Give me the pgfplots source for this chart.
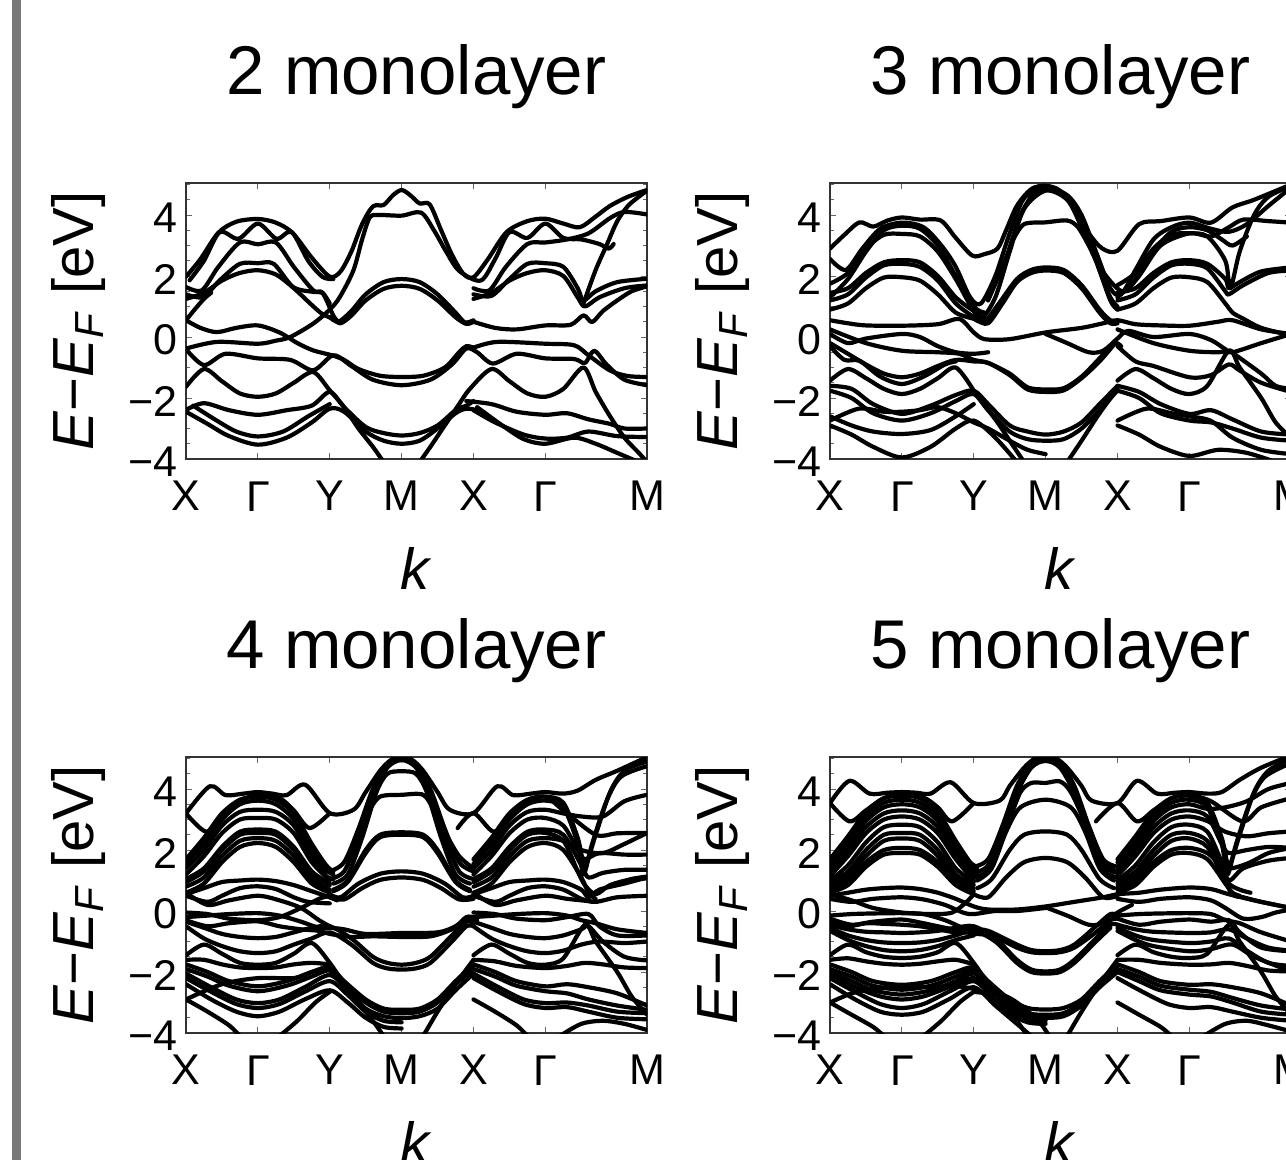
\documentclass[border=0pt]{standalone}
\usepackage{fontspec}
\setmainfont{Liberation Sans}
\usepackage{pgfplots}
\pgfplotsset{compat=1.18}
\definecolor{graybar}{RGB}{120,120,120}
\newcommand{\B}[1]{\addplot coordinates {#1};}
\pgfplotsset{bandaxis/.style={
  scale only axis, width=230.5pt, height=138pt,
  xmin=0, xmax=6.414, ymin=-4, ymax=5.05,
  xtick={0,1,2,3,4,5,6.414},
  xticklabels={X,Γ,Y,M,X,Γ,M},
  ytick={-4,-2,0,2,4},
  yticklabels={−4,−2,0,2,4},
  minor ytick={-3.5,-3,-2.5,-1.5,-1,-0.5,0.5,1,1.5,2.5,3,3.5,4.5,5},
  tick align=inside,
  major tick length=3pt, minor tick length=1.8pt,
  tick style={black!60, line width=0.5pt},
  axis line style={black!80, line width=0.6pt},
  ticklabel style={font=\fontsize{21.5}{21.5}\selectfont, inner sep=0pt},
  xticklabel style={yshift=-11pt},
  yticklabel style={xshift=-4pt, yshift=-1.5pt},
  xlabel={\textit{k}},
  ylabel={\textit{E}−\textit{E}\textsubscript{\textit{F}} [eV]},
  label style={font=\fontsize{29}{29}\selectfont},
  xlabel style={at={(axis description cs:0.5,-0.4746)}, anchor=base},
  ylabel style={at={(axis description cs:-0.234,0.5)}, anchor=center},
  title style={font=\fontsize{34.5}{34.5}\selectfont, at={(axis description cs:0.5,1)}, anchor=base, yshift=38.5pt},
  cycle list={{black,solid,mark=none}},
  every axis plot post/.append style={black, solid, mark=none, line width=2.1pt, smooth, tension=0.5, line join=round, line cap=round},
}}
\begin{document}
\begin{tikzpicture}
\fill[graybar] (6pt,0pt) rectangle (10.5pt,-580pt);
% ---------------- 2 monolayer
\begin{axis}[bandaxis, at={(93pt,-229.5pt)}, anchor=south west, title={2 monolayer}]
\B{(0,1.98)(0.2,2.55)(0.45,3.42)(0.7,3.78)(1,3.87)(1.25,3.75)(1.48,3.42)(1.75,2.6)(2,1.98)(2.15,2.15)(2.3,2.8)(2.45,3.7)(2.6,4.28)(2.75,4.33)(2.88,4.65)(3,4.82)(3.12,4.65)(3.25,4.38)(3.39,4.35)(3.55,3.5)(3.7,2.7)(3.86,2.07)(4,1.96)(4.2,2.55)(4.46,3.44)(4.75,3.8)(5,3.88)(5.25,3.72)(5.48,3.6)(5.7,3.95)(5.9,4.3)(6.15,4.6)(6.414,4.82)}
\B{(0.05,1.86)(0.25,2.5)(0.47,3.44)(0.73,3.22)(1,3.72)(1.26,3.22)(1.47,3.44)(1.7,2.5)(1.9,1.97)(2.05,1.9)}
\B{(0,-0.38)(0.43,-0.16)(1,-0.22)(1.25,-0.12)(1.45,0)(1.77,0.44)(2,0.9)(2.14,1.31)(2.33,2.19)(2.45,3.2)(2.56,3.93)(2.7,4.0)(3,3.98)(3.27,4.08)(3.45,3.5)(3.62,2.8)(3.8,2.17)(4.1,1.85)(4.3,2.55)(4.5,3.44)(4.75,3.25)(5,3.72)(5.25,3.25)(5.5,3.2)(5.75,3.05)(5.88,2.9)(5.95,3.05)}
\B{(0,1.64)(0.22,1.53)(0.45,2.3)(0.75,3.1)(1,3.04)(1.25,3.1)(1.5,2.3)(1.77,1.53)(1.9,1.45)(2.05,0.7)(2.12,0.5)}
\B{(2,0.65)(2.12,0.5)(2.3,0.85)(2.5,1.4)(2.75,1.8)(3,1.9)(3.25,1.8)(3.5,1.4)(3.75,0.8)(3.88,0.48)(4,0.55)}
\B{(2.05,0.6)(2.15,0.45)(2.3,0.7)(2.5,1.2)(2.75,1.58)(3,1.68)(3.25,1.58)(3.5,1.2)(3.75,0.65)(3.9,0.43)(4,0.5)}
\B{(0,1.4)(0.24,1.31)(0.47,1.86)(0.75,2.4)(1,2.42)(1.22,2.4)(1.49,1.64)(1.77,1.48)(1.9,1.45)(2,1.1)}
\B{(0,1.25)(0.25,1.45)(0.5,1.85)(0.75,2.1)(1,2.19)(1.25,2.05)(1.5,1.6)(1.75,1.05)(1.9,0.75)(2.05,0.6)}
\B{(0,0.55)(0.12,0.9)(0.25,1.25)(0.35,1.45)}
\B{(0,0.55)(0.2,0.3)(0.43,0.16)(0.7,0.3)(1,0.38)(1.3,0.15)(1.55,-0.2)(1.77,-0.44)(2.03,-0.6)(2.2,-0.75)(2.4,-1.05)(2.7,-1.27)(3,-1.31)(3.3,-1.27)(3.6,-1.0)(3.8,-0.5)(3.9,-0.3)(4,-0.35)}
\B{(0,-0.4)(0.25,-0.92)(0.55,-0.55)(1,-0.7)(1.45,-0.75)(1.77,-1.09)(2.05,-0.6)(2.3,-0.95)(2.6,-1.4)(3,-1.58)(3.4,-1.4)(3.7,-0.9)(3.9,-0.38)(4.05,-0.5)(4.27,-0.87)(4.6,-0.55)(5,-0.7)(5.4,-0.72)(5.55,-0.85)(5.68,-0.45)(5.85,-0.9)(6.1,-1.4)(6.414,-1.58)}
\B{(4,-0.35)(4.33,-0.16)(5,-0.22)(5.4,-0.27)(5.6,-0.6)(5.9,-1.1)(6.15,-1.28)(6.414,-1.31)}
\B{(0,-1.63)(0.25,-1.05)(0.5,-1.45)(0.75,-1.85)(1,-1.96)(1.25,-1.85)(1.5,-1.5)(1.77,-1.15)(2,-1.75)(2.2,-2.3)(2.4,-3.0)(2.6,-3.6)(2.75,-4.1)}
\B{(3.25,-4.1)(3.4,-3.6)(3.6,-2.9)(3.8,-2.2)(3.95,-1.7)(4.25,-1.05)(4.5,-1.45)(4.75,-1.85)(5,-1.96)(5.25,-1.7)(5.53,-1.0)(5.7,-1.8)(5.9,-2.6)(6.1,-3.3)(6.3,-3.8)(6.414,-4.1)}
\B{(0,-2.39)(0.25,-2.17)(0.6,-2.4)(1,-2.55)(1.4,-2.4)(1.75,-2.25)(2,-1.8)(2.2,-2.3)(2.5,-2.95)(2.75,-3.15)(3,-3.23)(3.25,-3.15)(3.5,-2.9)(3.75,-2.4)(3.9,-2.25)(4,-2.1)}
\B{(0,-2.45)(0.3,-2.85)(0.6,-3.25)(1,-3.53)(1.4,-3.3)(1.75,-2.8)(2,-2.35)(2.2,-2.45)(2.5,-3.1)(2.75,-3.4)(3,-3.5)(3.25,-3.4)(3.5,-3.0)(3.75,-2.5)(3.9,-2.35)(4.05,-2.4)}
\B{(0.1,-2.25)(0.4,-2.7)(0.7,-3.1)(1,-3.26)(1.35,-3.1)(1.7,-2.6)(2,-2.2)}
\B{(3.9,-2.1)(4.25,-2.2)(4.6,-2.45)(5,-2.55)(5.3,-2.5)(5.6,-2.7)(5.9,-2.85)(6.1,-3.0)(6.414,-3.0)}
\B{(4,-2.4)(4.3,-2.8)(4.7,-3.2)(5,-3.33)(5.3,-3.3)(5.6,-3.1)(6,-3.25)(6.414,-3.28)}
\B{(4.05,-2.3)(4.4,-2.9)(4.7,-3.35)(5,-3.5)(5.4,-3.3)(5.7,-3.5)(6,-3.8)(6.3,-4.1)}
\B{(5.53,1.1)(5.7,2.2)(5.85,3.0)(6,3.8)(6.15,4.3)(6.3,4.6)(6.414,4.8)}
\B{(4,1.4)(4.25,1.35)(4.5,1.9)(4.75,2.4)(5,2.42)(5.25,2.3)(5.45,1.6)(5.53,1.2)(5.7,1.5)(6,1.8)(6.414,1.91)}
\B{(4,1.25)(4.25,1.45)(4.5,1.85)(4.75,2.1)(5,2.19)(5.25,2.0)(5.45,1.3)(5.55,1.0)(5.75,1.3)(6.1,1.6)(6.414,1.69)}
\B{(4,0.5)(4.3,0.3)(4.6,0.25)(5,0.38)(5.35,0.4)(5.53,0.71)(5.65,0.49)(5.8,0.85)(6,1.2)(6.2,1.5)(6.414,1.66)}
\B{(4,1.6)(4.22,1.53)(4.45,2.3)(4.75,3.05)(5,3.1)(5.3,3.2)(5.6,3.4)(5.9,3.9)(6.1,4.1)(6.414,4.02)}
\end{axis}
% ---------------- 3 monolayer
\begin{axis}[bandaxis, at={(415pt,-229.5pt)}, anchor=south west, title={3 monolayer}]
\B{(0,2.9)(0.2,3.35)(0.41,3.76)(0.6,3.62)(0.8,3.82)(1,3.92)(1.25,3.85)(1.54,3.82)(1.75,3.25)(1.98,2.67)(2.15,2.72)(2.33,2.9)(2.45,3.5)(2.6,4.3)(2.8,4.85)(3,4.96)(3.2,4.8)(3.4,4.2)(3.6,3.4)(3.79,2.9)(4,2.83)(4.3,3.7)(4.6,3.8)(5,3.92)(5.3,3.75)(5.6,4.25)(5.9,4.5)(6.414,5.0)}
\B{(0,2.56)(0.22,2.2)(0.45,2.9)(0.7,3.55)(1,3.75)(1.3,3.6)(1.55,3.0)(1.75,2.3)(1.95,1.3)(2.1,1.1)(2.3,2.0)(2.5,3.4)(2.7,4.55)(3,4.9)(3.3,4.65)(3.5,4.0)(3.7,2.8)(3.9,1.6)(4.05,1.4)(4.25,2.2)(4.5,3.2)(4.75,3.6)(5,3.75)(5.3,3.55)(5.55,3.45)(5.8,3.7)(6.1,4.3)(6.414,4.9)}
\B{(0,1.75)(0.25,2.1)(0.5,2.9)(0.75,3.35)(1,3.38)(1.25,3.3)(1.5,2.8)(1.75,1.9)(1.95,1.05)(2.1,0.6)(2.3,1.3)(2.5,2.8)(2.7,4.2)(3,4.8)(3.3,4.5)(3.5,3.6)(3.7,2.5)(3.9,1.2)(4,0.9)}
\B{(2.55,3.2)(2.7,3.7)(3,3.76)(3.3,3.82)(3.45,3.6)(3.6,3.0)(3.75,2.3)(3.95,1.7)(4.1,1.5)(4.3,2.0)(4.6,3.0)(5,3.4)(5.3,3.3)(5.55,3.6)(5.75,3.85)(6.1,3.8)(6.414,3.75)}
\B{(0,1.3)(0.25,1.9)(0.5,2.8)(0.75,3.5)(1,3.65)(1.25,3.55)(1.5,3.0)(1.75,2.0)(2,1.0)(2.15,0.8)}
\B{(2.2,1.2)(2.45,2.6)(2.65,4.0)(2.85,4.75)(3,4.88)(3.15,4.8)(3.35,4.45)(3.55,3.5)(3.75,2.2)(3.9,1.3)(4,1.0)}
\B{(0,1.45)(0.25,1.6)(0.5,2.1)(0.75,2.45)(1,2.52)(1.25,2.45)(1.5,2.0)(1.75,1.3)(2,0.85)(2.2,0.55)}
\B{(0,1.2)(0.25,1.4)(0.5,1.95)(0.75,2.35)(1,2.4)(1.25,2.3)(1.5,1.85)(1.75,1.1)(2,0.65)}
\B{(0,0.9)(0.25,1.1)(0.5,1.6)(0.75,1.95)(1,1.96)(1.25,1.85)(1.5,1.4)(1.75,0.8)(2,0.6)}
\B{(2,0.6)(2.15,0.5)(2.35,1.1)(2.6,1.9)(2.8,2.2)(3,2.28)(3.25,2.2)(3.5,1.7)(3.75,0.9)(3.9,0.55)(4,0.5)}
\B{(2.05,0.55)(2.2,0.45)(2.4,1.1)(2.6,1.8)(2.8,2.1)(3,2.18)(3.25,2.1)(3.5,1.6)(3.75,0.8)(3.9,0.45)(4,0.45)}
\B{(4,1.45)(4.25,1.6)(4.5,2.1)(4.75,2.45)(5,2.52)(5.25,2.4)(5.5,1.9)(5.55,1.6)(5.7,1.8)(6,2.15)(6.414,2.28)}
\B{(4,1.2)(4.25,1.4)(4.5,1.95)(4.75,2.35)(5,2.4)(5.25,2.25)(5.5,1.5)(5.55,1.4)(5.75,1.7)(6.1,2.1)(6.414,2.18)}
\B{(4,0.9)(4.25,1.1)(4.5,1.6)(4.75,1.95)(5,1.96)(5.25,1.8)(5.5,1.1)(5.6,0.8)(5.75,0.6)(6,0.3)(6.414,0.05)}
\B{(4,1.7)(4.25,2.1)(4.5,2.9)(4.75,3.35)(5,3.4)(5.25,3.3)(5.5,2.5)(5.57,1.6)(5.7,2.8)(5.9,4.0)(6.1,4.6)(6.414,4.95)}
\B{(4,1.3)(4.25,1.9)(4.5,2.8)(4.75,3.45)(5,3.6)(5.25,3.5)(5.45,3.2)(5.6,3.0)(5.8,3.3)}
\B{(0,0.55)(0.25,0.45)(0.5,0.38)(1,0.37)(1.5,0.42)(1.8,0.59)(2,0.15)(2.15,-0.07)(2.5,-0.07)(3,0.15)(3.5,0.3)(3.8,0.45)(4,0.55)(4.25,0.42)(4.6,0.38)(5,0.37)(5.4,0.5)(5.6,0.55)(6,0.25)(6.414,0.1)}
\B{(0,0.1)(0.25,-0.2)(0.5,-0.05)(1,0.1)(1.25,0)(1.5,-0.3)(1.75,-0.5)(2,-0.55)(2.2,-0.5)}
\B{(0,0.25)(0.5,-0.2)(1,-0.45)(1.5,-0.5)(1.8,-0.55)(2,-0.75)(2.2,-0.85)(2.5,-1.2)(2.75,-1.65)(3,-1.72)(3.25,-1.68)(3.5,-1.3)(3.75,-0.7)(3.95,-0.2)(4.05,-0.3)}
\B{(3,0.1)(3.3,-0.2)(3.6,-0.5)(3.8,-0.45)(4,-0.05)(4.15,0.2)(4.5,0.0)(5,0.1)(5.3,-0.1)(5.5,-0.4)(5.6,-0.5)(6,-0.2)(6.414,0.1)}
\B{(4,0.25)(4.5,-0.2)(5,-0.45)(5.4,-0.5)(5.55,-0.45)(5.65,-0.6)(6,-1.2)(6.2,-1.6)(6.414,-1.7)}
\B{(0,-0.2)(0.25,-0.55)(0.5,-0.9)(0.75,-1.2)(1,-1.32)(1.25,-1.2)(1.5,-0.95)(1.75,-0.75)(2,-0.8)(2.2,-0.85)(2.5,-1.25)(2.75,-1.72)(3,-1.8)(3.25,-1.75)(3.5,-1.35)(3.75,-0.8)(3.95,-0.25)}
\B{(0,-0.3)(0.2,-0.75)(0.41,-0.78)(0.7,-1.3)(1,-1.54)(1.3,-1.3)(1.6,-0.9)(1.75,-0.8)}
\B{(0,-1.43)(0.25,-1.05)(0.5,-1.35)(0.75,-1.7)(1,-1.87)(1.25,-1.7)(1.5,-1.35)(1.75,-1.0)(2,-1.76)}
\B{(0,-1.6)(0.3,-1.7)(0.6,-2.2)(1,-2.52)(1.4,-2.25)(1.75,-1.9)(2,-1.76)(2.2,-2.2)(2.5,-2.9)(2.75,-3.1)(3,-3.2)(3.25,-3.1)(3.5,-2.8)(3.75,-2.2)(4,-1.6)}
\B{(0,-1.76)(0.3,-2.0)(0.6,-2.5)(1,-2.74)(1.4,-2.5)(1.75,-2.1)(2,-1.87)(2.2,-2.4)(2.5,-3.1)(2.75,-3.35)(3,-3.4)(3.25,-3.35)(3.5,-3.0)(3.75,-2.4)(4,-1.75)}
\B{(0,-2.74)(0.4,-2.35)(0.75,-2.45)(1,-2.45)(1.25,-2.4)(1.5,-2.3)(1.75,-2.5)(2,-2.8)(2.2,-3.0)(2.5,-3.4)(2.75,-3.7)(3,-3.84)}
\B{(0,-2.9)(0.3,-3.2)(0.6,-3.6)(1,-3.95)(1.4,-3.6)(1.75,-3.0)(2,-2.74)(2.3,-3.3)(2.6,-4.1)}
\B{(0,-2.6)(0.3,-2.9)(0.6,-3.1)(1,-3.18)(1.4,-3.05)(1.75,-2.6)(2,-2.2)}
\B{(4,-1.43)(4.25,-1.05)(4.5,-1.35)(4.75,-1.7)(5,-1.87)(5.25,-1.6)(5.55,-0.45)(5.7,-1.0)(6,-2.0)(6.2,-2.8)(6.414,-3.3)}
\B{(4,-1.6)(4.3,-1.8)(4.6,-2.2)(5,-2.52)(5.3,-2.4)(5.6,-2.7)(6,-3.1)(6.414,-3.2)}
\B{(4,-1.76)(4.3,-2.0)(4.6,-2.5)(5,-2.74)(5.3,-2.8)(5.6,-3.0)(6,-3.3)(6.414,-3.4)}
\B{(4,-2.74)(4.4,-2.35)(4.75,-2.5)(5,-2.6)(5.3,-2.75)(5.6,-3.3)(6,-3.7)(6.414,-3.84)}
\B{(4,-2.9)(4.3,-3.2)(4.6,-3.6)(5,-3.9)(5.4,-3.7)(5.8,-3.8)(6.2,-4.1)}
\B{(4,-0.3)(4.25,-0.8)(4.5,-0.95)(5,-1.32)(5.3,-1.25)(5.55,-0.9)(5.7,-1.1)(6,-1.5)(6.414,-1.8)}
\B{(2,-1.8)(2.3,-2.7)(2.5,-3.4)(2.7,-4.1)}
\B{(3.3,-4.1)(3.5,-3.4)(3.75,-2.5)(4,-1.7)}
\end{axis}
% ---------------- 4 monolayer
\begin{axis}[bandaxis, at={(93pt,-516.5pt)}, anchor=south west, title={4 monolayer}]
\B{(0,3.2)(0.33,4.09)(0.55,3.8)(0.8,3.85)(1,3.9)(1.2,3.85)(1.4,3.8)(1.66,4.14)(2,3.21)(2.33,3.32)(2.5,3.9)(2.7,4.6)(2.85,4.95)(3,5.07)(3.15,4.95)(3.3,4.6)(3.5,3.9)(3.67,3.32)(4,3.21)(4.33,4.09)(4.55,3.8)(4.8,3.85)(5,3.9)(5.25,3.85)(5.45,3.95)(5.7,4.3)(6,4.6)(6.414,5.05)}
\B{(0,3.2)(0.28,2.6)(0.5,3.1)(0.75,3.6)(1,3.8)(1.3,3.7)(1.5,3.3)(1.72,2.72)(2,3.21)}
\B{(3.78,2.72)(4,3.21)(4.28,2.6)(4.5,3.1)(4.75,3.6)(5,3.75)(5.25,3.3)(5.7,2.5)(6,2.55)(6.414,2.56)}
\B{(0,1.7)(0.25,2.4)(0.5,3.2)(0.75,3.65)(1,3.75)(1.25,3.65)(1.5,3.2)(1.75,2.2)(1.95,1.5)(2.05,1.3)}
\B{(0,1.55)(0.25,2.2)(0.5,3.0)(0.75,3.5)(1,3.62)(1.25,3.5)(1.5,3.0)(1.75,2.0)(1.95,1.35)(2.05,1.2)}
\B{(0,1.4)(0.25,2.0)(0.5,2.8)(0.75,3.25)(1,3.32)(1.25,3.25)(1.5,2.8)(1.75,1.8)(1.95,1.15)(2.05,1.05)}
\B{(0,1.2)(0.25,1.8)(0.5,2.55)(0.75,3.0)(1,3.05)(1.25,3.0)(1.5,2.55)(1.75,1.6)(2,1.0)}
\B{(0,1.05)(0.25,1.4)(0.5,2.1)(0.75,2.6)(1,2.67)(1.25,2.6)(1.5,2.1)(1.75,1.3)(2,0.9)}
\B{(0,0.95)(0.25,1.3)(0.5,2.0)(0.75,2.5)(1,2.56)(1.25,2.5)(1.5,2.0)(1.75,1.2)(2,0.85)}
\B{(0,0.8)(0.25,1.1)(0.5,1.8)(0.75,2.3)(1,2.39)(1.25,2.3)(1.5,1.8)(1.75,1.05)(2,0.7)}
\B{(0,0.6)(0.25,0.9)(0.5,1.6)(0.75,2.1)(1,2.23)(1.25,2.1)(1.5,1.6)(1.75,0.9)(2,0.6)}
\B{(2,1.3)(2.2,1.6)(2.4,2.7)(2.6,4.0)(2.8,4.8)(3,5.0)(3.2,4.8)(3.4,4.0)(3.6,2.7)(3.8,1.6)(4,1.3)}
\B{(2,1.05)(2.2,1.3)(2.4,2.4)(2.6,3.8)(2.8,4.7)(3,4.95)(3.2,4.7)(3.4,3.8)(3.6,2.4)(3.8,1.3)(4,1.05)}
\B{(2.05,0.9)(2.25,1.2)(2.45,2.4)(2.65,3.9)(2.8,4.5)(3,4.58)(3.2,4.5)(3.35,3.9)(3.55,2.4)(3.75,1.2)(3.95,0.9)}
\B{(2.55,3.3)(2.7,3.75)(3,3.81)(3.3,3.81)(3.45,3.3)(3.6,2.6)(3.8,1.8)(4,1.4)}
\B{(2.05,0.7)(2.25,1.0)(2.5,2.0)(2.7,2.5)(3,2.58)(3.3,2.5)(3.5,2.0)(3.75,1.0)(3.95,0.7)}
\B{(2.05,0.65)(2.25,0.95)(2.5,1.9)(2.7,2.42)(3,2.5)(3.3,2.42)(3.5,1.9)(3.75,0.95)(3.95,0.65)}
\B{(2,0.55)(2.15,0.45)(2.4,0.9)(2.7,1.22)(3,1.3)(3.3,1.22)(3.6,0.9)(3.85,0.45)(4,0.5)}
\B{(2,0.45)(2.2,0.38)(2.45,0.75)(2.7,1.02)(3,1.1)(3.3,1.02)(3.55,0.75)(3.8,0.38)(4,0.4)}
\B{(4,1.7)(4.25,2.4)(4.5,3.2)(4.75,3.65)(5,3.75)(5.25,3.55)(5.45,2.4)(5.55,1.5)(5.7,2.5)(5.9,3.9)(6.1,4.6)(6.414,4.9)}
\B{(4,1.55)(4.25,2.2)(4.5,3.0)(4.75,3.5)(5,3.62)(5.25,3.4)(5.45,2.2)(5.53,1.2)(5.65,2.2)(5.85,3.6)(6.05,4.4)(6.414,4.75)}
\B{(4,1.4)(4.25,2.0)(4.5,2.8)(4.75,3.25)(5,3.32)(5.25,3.2)(5.5,3.1)(5.8,3.1)(6.1,3.6)(6.414,3.81)}
\B{(4,1.2)(4.25,1.8)(4.5,2.55)(4.75,3.0)(5,3.05)(5.25,2.8)(5.45,2.0)(5.55,1.7)(5.75,1.9)(6.1,1.85)(6.414,1.85)}
\B{(4,1.05)(4.25,1.4)(4.5,2.1)(4.75,2.6)(5,2.67)(5.25,2.5)(5.5,1.5)(5.6,1.1)(5.8,1.25)(6.1,1.35)(6.414,1.35)}
\B{(4,0.95)(4.25,1.3)(4.5,2.0)(4.75,2.5)(5,2.56)(5.25,2.3)(5.45,1.3)(5.55,0.85)(5.7,0.55)(5.9,0.85)(6.2,1.05)(6.414,1.13)}
\B{(4,0.8)(4.25,1.1)(4.5,1.8)(4.75,2.3)(5,2.39)(5.25,2.3)(5.5,2.0)(5.8,1.9)(6.1,2.2)(6.414,2.56)}
\B{(4,0.6)(4.25,0.9)(4.5,1.6)(4.75,2.1)(5,2.23)(5.25,2.0)(5.5,1.1)(5.6,0.6)(5.7,0.4)}
\B{(0,0.55)(0.25,0.75)(0.5,0.95)(0.75,1.0)(1,1.03)(1.25,0.98)(1.5,0.85)(1.75,0.65)(2,0.45)(2.1,0.35)}
\B{(0,0.5)(0.3,0.3)(0.5,0.5)(0.75,0.75)(1,0.81)(1.25,0.72)(1.5,0.45)(1.7,0.3)(2,0.25)}
\B{(0,0.6)(0.3,0.2)(0.6,0.35)(1,0.5)(1.3,0.35)(1.6,0.1)(1.85,-0.3)(2,-0.5)}
\B{(0,-0.05)(0.3,-0.1)(0.6,-0.25)(1,-0.3)(1.3,-0.2)(1.6,0.1)(1.85,0.4)(2,0.5)}
\B{(4,0.55)(4.25,0.75)(4.5,0.95)(4.75,1.0)(5,1.03)(5.25,0.95)(5.5,0.7)(5.6,0.45)(5.75,0.7)(6.1,0.9)(6.414,1.1)}
\B{(4,0.5)(4.3,0.3)(4.5,0.5)(4.75,0.75)(5,0.81)(5.25,0.7)(5.5,0.4)(5.7,0.3)(6,0.45)(6.414,0.5)}
\B{(4,0.6)(4.3,0.2)(4.6,0.35)(5,0.5)(5.3,0.4)(5.5,0.35)(5.7,0.3)}
\B{(4,-0.05)(4.3,-0.1)(4.6,-0.25)(5,-0.3)(5.3,-0.2)(5.6,-0.1)(5.75,-0.5)(6,-0.8)(6.414,-0.8)}
\B{(0,-0.2)(0.3,-0.15)(0.6,-0.1)(1,-0.07)(1.3,-0.15)(1.6,-0.35)(1.85,-0.55)(2,-0.55)(2.2,-0.6)(2.5,-0.75)(3,-0.72)(3.5,-0.7)(3.75,-0.5)(3.9,-0.2)(4,-0.2)}
\B{(0,-0.3)(0.3,-0.5)(0.6,-0.4)(1,-0.34)(1.3,-0.5)(1.6,-0.6)(1.85,-0.65)(2,-0.75)(2.3,-0.85)(2.6,-0.83)(3,-0.85)(3.4,-0.83)(3.7,-0.6)(3.9,-0.3)(4.05,-0.3)}
\B{(0,-0.35)(0.25,-0.55)(0.5,-0.75)(0.75,-0.85)(1,-0.89)(1.25,-0.85)(1.5,-0.7)(1.75,-0.55)(2,-0.5)(2.3,-0.9)(2.6,-1.5)(2.8,-1.7)(3,-1.76)(3.2,-1.7)(3.4,-1.5)(3.7,-0.8)(3.9,-0.35)(4,-0.4)}
\B{(0,-0.5)(0.25,-0.9)(0.5,-1.15)(0.75,-1.32)(1,-1.38)(1.25,-1.32)(1.5,-1.1)(1.75,-0.9)(2,-0.7)(2.3,-1.1)(2.6,-1.7)(2.8,-1.88)(3,-1.92)(3.2,-1.88)(3.4,-1.7)(3.7,-1.0)(3.9,-0.5)(4,-0.5)}
\B{(0,-1.45)(0.25,-1.1)(0.5,-1.4)(0.75,-1.7)(1,-1.76)(1.25,-1.7)(1.5,-1.4)(1.75,-1.05)(2,-1.7)(2.2,-2.4)(2.4,-3.0)(2.6,-3.6)(2.75,-4.1)}
\B{(0,-1.6)(0.25,-1.6)(0.5,-1.75)(0.75,-1.85)(1,-1.87)(1.25,-1.85)(1.5,-1.75)(1.75,-1.7)(2,-1.75)}
\B{(0,-1.75)(0.3,-2.0)(0.6,-2.3)(1,-2.47)(1.4,-2.3)(1.75,-2.0)(2,-1.85)(2.2,-2.3)(2.5,-2.9)(2.75,-3.2)(3,-3.24)(3.25,-3.2)(3.5,-2.9)(3.75,-2.3)(4,-1.75)}
\B{(0,-1.9)(0.3,-2.15)(0.6,-2.45)(1,-2.63)(1.4,-2.45)(1.75,-2.15)(2,-1.95)(2.2,-2.4)(2.5,-3.0)(2.75,-3.3)(3,-3.35)(3.25,-3.3)(3.5,-3.0)(3.75,-2.4)(4,-1.9)}
\B{(0,-2.05)(0.35,-2.5)(0.7,-2.9)(1,-3.02)(1.3,-2.9)(1.65,-2.5)(2,-2.1)(2.25,-2.6)(2.5,-3.2)(2.75,-3.45)(3,-3.51)(3.25,-3.45)(3.5,-3.2)(3.75,-2.6)(4,-2.05)}
\B{(0,-2.2)(0.35,-2.65)(0.7,-3.05)(1,-3.18)(1.3,-3.05)(1.65,-2.65)(2,-2.3)(2.25,-2.75)(2.5,-3.3)(2.75,-3.6)(3,-3.65)}
\B{(0,-2.4)(0.35,-2.9)(0.7,-3.3)(1,-3.45)(1.3,-3.3)(1.65,-2.9)(2,-2.6)(2.25,-3.0)(2.5,-3.5)(2.75,-3.8)(3,-3.85)}
\B{(0,-2.9)(0.5,-2.4)(1,-2.2)(1.5,-2.2)(1.75,-2.0)(2,-1.8)}
\B{(0,-2.9)(0.3,-3.3)(0.6,-3.75)(0.75,-4.1)}
\B{(1.3,-4.1)(1.55,-3.6)(1.8,-3.0)(2,-2.65)}
\B{(3.3,-4.1)(3.5,-3.3)(3.75,-2.4)(4,-1.6)}
\B{(4,-1.45)(4.25,-1.1)(4.5,-1.4)(4.75,-1.7)(5,-1.76)(5.25,-1.55)(5.55,-0.45)(5.7,-1.0)(6,-2.0)(6.2,-2.8)(6.414,-3.4)}
\B{(4,-1.6)(4.3,-1.65)(4.6,-1.8)(5,-1.87)(5.3,-1.8)(5.55,-1.7)(5.8,-1.75)(6.1,-1.85)(6.414,-1.87)}
\B{(4,-1.75)(4.3,-2.0)(4.6,-2.3)(5,-2.47)(5.3,-2.4)(5.6,-2.5)(6,-2.7)(6.414,-3.1)}
\B{(4,-1.9)(4.3,-2.15)(4.6,-2.45)(5,-2.63)(5.3,-2.7)(5.6,-2.9)(6,-3.1)(6.414,-3.24)}
\B{(4,-2.05)(4.35,-2.5)(4.7,-2.9)(5,-3.02)(5.3,-3.0)(5.6,-3.1)(6,-3.3)(6.414,-3.35)}
\B{(4,-2.2)(4.35,-2.65)(4.7,-3.05)(5,-3.18)(5.3,-3.15)(5.6,-3.3)(6,-3.5)(6.414,-3.55)}
\B{(4,-2.9)(4.3,-3.3)(4.6,-3.75)(4.75,-4.1)}
\B{(5.2,-4.1)(5.5,-3.7)(5.8,-3.6)(6.1,-3.7)(6.414,-3.9)}
\B{(4,-0.35)(4.25,-0.55)(4.5,-0.75)(4.75,-0.85)(5,-0.89)(5.25,-0.8)(5.5,-0.6)(5.6,-0.5)(5.8,-1.0)(6.1,-1.5)(6.414,-1.62)}
\B{(4,-0.5)(4.25,-0.9)(4.5,-1.15)(4.75,-1.32)(5,-1.38)(5.25,-1.3)(5.5,-1.1)(5.75,-1.0)(6.1,-1.05)(6.414,-1.0)}
\B{(4,-0.2)(4.3,-0.15)(4.6,-0.1)(5,-0.07)(5.3,-0.15)(5.5,-0.3)(5.7,-0.4)(6,-0.6)(6.414,-0.72)}
\end{axis}
% ---------------- 5 monolayer
\begin{axis}[bandaxis, at={(415pt,-516.5pt)}, anchor=south west, title={5 monolayer}]
\B{(0,3.54)(0.27,4.27)(0.55,3.85)(0.8,3.88)(1,3.9)(1.2,3.88)(1.4,3.85)(1.68,4.22)(2,3.54)(2.36,3.62)(2.5,4.1)(2.7,4.7)(2.85,5.0)(3,5.1)(3.15,5.0)(3.3,4.7)(3.5,4.1)(3.64,3.62)(4,3.54)(4.27,4.27)(4.55,3.85)(4.8,3.88)(5,3.9)(5.25,3.85)(5.45,3.9)(5.7,4.3)(6,4.7)(6.414,5.1)}
\B{(0,3.54)(0.27,2.94)(0.5,3.3)(0.75,3.7)(1,3.82)(1.3,3.72)(1.5,3.4)(1.7,2.94)(2,3.54)}
\B{(3.7,2.94)(4,3.54)(4.27,2.94)(4.5,3.3)(4.75,3.7)(5,3.8)(5.3,3.6)(5.74,2.94)(6,3.4)(6.414,3.7)}
\B{(0,1.7)(0.25,2.45)(0.5,3.25)(0.75,3.7)(1,3.78)(1.25,3.7)(1.5,3.25)(1.75,2.3)(1.95,1.6)(2.05,1.45)}
\B{(0,1.6)(0.25,2.3)(0.5,3.1)(0.75,3.55)(1,3.65)(1.25,3.55)(1.5,3.1)(1.75,2.15)(1.95,1.5)(2.05,1.35)}
\B{(0,1.45)(0.25,2.15)(0.5,2.95)(0.75,3.4)(1,3.5)(1.25,3.4)(1.5,2.95)(1.75,2.0)(1.95,1.35)(2.05,1.25)}
\B{(0,1.3)(0.25,2.0)(0.5,2.75)(0.75,3.2)(1,3.3)(1.25,3.2)(1.5,2.75)(1.75,1.85)(1.95,1.2)(2.05,1.1)}
\B{(0,1.15)(0.25,1.8)(0.5,2.55)(0.75,3.0)(1,3.1)(1.25,3.0)(1.5,2.55)(1.75,1.7)(2,1.0)}
\B{(0,1.0)(0.25,1.5)(0.5,2.25)(0.75,2.75)(1,2.83)(1.25,2.75)(1.5,2.25)(1.75,1.4)(2,0.95)}
\B{(0,0.9)(0.25,1.3)(0.5,2.0)(0.75,2.5)(1,2.56)(1.25,2.5)(1.5,2.0)(1.75,1.2)(2,0.85)}
\B{(0,0.8)(0.25,1.15)(0.5,1.8)(0.75,2.3)(1,2.38)(1.25,2.3)(1.5,1.8)(1.75,1.05)(2,0.75)}
\B{(0,0.7)(0.25,1.0)(0.5,1.6)(0.75,2.0)(1,2.07)(1.25,2.0)(1.5,1.6)(1.75,0.95)(2,0.65)}
\B{(0,0.6)(0.25,0.85)(0.5,1.45)(0.75,1.85)(1,1.9)(1.25,1.85)(1.5,1.45)(1.75,0.85)(2,0.55)}
\B{(2,1.45)(2.2,1.7)(2.4,2.8)(2.6,4.1)(2.8,4.85)(3,5.05)(3.2,4.85)(3.4,4.1)(3.6,2.8)(3.8,1.7)(4,1.45)}
\B{(2,1.25)(2.2,1.5)(2.4,2.6)(2.6,3.95)(2.8,4.8)(3,5.0)(3.2,4.8)(3.4,3.95)(3.6,2.6)(3.8,1.5)(4,1.25)}
\B{(2,1.1)(2.2,1.35)(2.4,2.45)(2.6,3.85)(2.8,4.7)(3,4.92)(3.2,4.7)(3.4,3.85)(3.6,2.45)(3.8,1.35)(4,1.1)}
\B{(2.5,3.0)(2.65,3.9)(2.8,4.2)(3,4.2)(3.2,4.25)(3.35,3.9)(3.55,2.9)(3.8,1.6)(4,1.3)}
\B{(2.05,1.0)(2.25,1.4)(2.45,2.6)(2.65,3.4)(3,3.65)(3.35,3.4)(3.55,2.6)(3.75,1.4)(3.95,1.0)}
\B{(2.05,0.75)(2.25,1.05)(2.5,2.0)(2.7,2.5)(3,2.61)(3.3,2.5)(3.5,2.0)(3.75,1.05)(3.95,0.75)}
\B{(2,0.55)(2.2,0.45)(2.45,1.1)(2.7,1.6)(3,1.74)(3.3,1.6)(3.55,1.1)(3.8,0.45)(4,0.5)}
\B{(4,1.7)(4.25,2.45)(4.5,3.25)(4.75,3.7)(5,3.78)(5.25,3.55)(5.45,2.4)(5.55,1.5)(5.7,2.5)(5.9,3.9)(6.1,4.6)(6.414,5.0)}
\B{(4,1.6)(4.25,2.3)(4.5,3.1)(4.75,3.55)(5,3.65)(5.25,3.4)(5.45,2.2)(5.53,1.2)(5.65,2.2)(5.85,3.6)(6.05,4.4)(6.414,4.85)}
\B{(4,1.45)(4.25,2.15)(4.5,2.95)(4.75,3.4)(5,3.5)(5.25,3.35)(5.5,3.4)(5.8,3.6)(6.1,4.0)(6.414,4.2)}
\B{(4,1.3)(4.25,2.0)(4.5,2.75)(4.75,3.2)(5,3.3)(5.25,3.1)(5.45,2.2)(5.55,1.9)(5.8,2.0)(6.1,2.1)(6.414,2.07)}
\B{(4,1.15)(4.25,1.8)(4.5,2.55)(4.75,3.0)(5,3.1)(5.25,2.95)(5.5,2.6)(5.8,2.45)(6.1,2.55)(6.414,2.61)}
\B{(4,1.0)(4.25,1.5)(4.5,2.25)(4.75,2.75)(5,2.83)(5.25,2.6)(5.45,1.6)(5.55,1.0)(5.75,1.4)(6.1,1.65)(6.414,1.74)}
\B{(4,0.9)(4.25,1.3)(4.5,2.0)(4.75,2.5)(5,2.56)(5.25,2.3)(5.45,1.4)(5.55,0.9)(5.7,0.7)(5.85,0.6)}
\B{(4,0.8)(4.25,1.15)(4.5,1.8)(4.75,2.3)(5,2.38)(5.25,2.1)(5.45,1.2)(5.6,0.55)(5.75,0.45)(6,0.3)(6.414,0.1)}
\B{(4,0.7)(4.25,1.0)(4.5,1.6)(4.75,2.0)(5,2.07)(5.25,1.9)(5.5,1.4)(5.8,1.55)(6.1,1.9)(6.414,2.07)}
\B{(4,0.6)(4.25,0.85)(4.5,1.45)(4.75,1.85)(5,1.9)(5.25,1.7)(5.5,0.9)(5.6,0.6)(5.7,0.5)}
\B{(0,0.5)(0.25,0.6)(0.5,0.7)(0.75,0.75)(1,0.77)(1.25,0.72)(1.5,0.6)(1.75,0.4)(2,0.15)(2.2,0.05)(2.6,0.05)(3,0.15)(3.4,0.3)(3.8,0.45)(4,0.55)(4.3,0.6)(4.6,0.7)(5,0.77)(5.3,0.72)(5.55,0.55)(5.9,0.35)(6.2,0.2)(6.414,0.1)}
\B{(0,0.4)(0.3,0.3)(0.6,0.4)(1,0.45)(1.3,0.38)(1.6,0.2)(1.85,-0.05)(2,-0.1)(2.3,0.0)(2.6,0.0)(3,0.1)}
\B{(0,0.55)(0.3,0.35)(0.6,0.1)(1,-0.05)(1.4,-0.1)(1.7,-0.05)(1.9,0.3)(2,0.55)}
\B{(3,0.12)(3.3,-0.15)(3.6,-0.45)(3.8,-0.4)(4,-0.05)(4.2,0.2)}
\B{(4,0.4)(4.3,0.3)(4.6,0.4)(5,0.45)(5.3,0.35)(5.5,0.1)(5.75,-0.25)(6,-0.2)(6.2,-0.05)(6.414,0.05)}
\B{(0,-0.15)(0.3,-0.1)(0.6,-0.08)(1,-0.07)(1.3,-0.1)(1.6,-0.3)(1.85,-0.55)(2,-0.6)(2.2,-0.65)(2.6,-1.1)(2.8,-1.28)(3,-1.32)(3.2,-1.28)(3.4,-1.1)(3.7,-0.5)(3.9,-0.1)(4,-0.15)}
\B{(0,-0.25)(0.3,-0.45)(0.6,-0.35)(1,-0.28)(1.3,-0.4)(1.6,-0.55)(1.85,-0.65)(2,-0.75)(2.25,-0.8)(2.6,-1.2)(2.8,-1.35)(3,-1.38)(3.2,-1.35)(3.4,-1.2)(3.7,-0.7)(3.9,-0.3)(4,-0.25)}
\B{(0,-0.35)(0.25,-0.5)(0.5,-0.4)(0.75,-0.42)(1,-0.45)(1.25,-0.5)(1.5,-0.6)(1.75,-0.7)(2,-0.7)}
\B{(0,-0.45)(0.25,-0.6)(0.5,-0.68)(0.75,-0.7)(1,-0.72)(1.25,-0.7)(1.5,-0.65)(1.75,-0.55)(2,-0.5)(2.3,-0.9)(2.6,-1.6)(2.8,-1.92)(3,-1.98)(3.2,-1.92)(3.4,-1.6)(3.7,-0.9)(3.9,-0.45)(4,-0.45)}
\B{(0,-0.55)(0.25,-0.8)(0.5,-0.95)(0.75,-1.03)(1,-1.05)(1.25,-1.03)(1.5,-0.95)(1.75,-0.8)(2,-0.65)(2.3,-1.0)(2.6,-1.7)(2.8,-2.0)(3,-2.05)(3.2,-2.0)(3.4,-1.7)(3.7,-1.0)(3.9,-0.55)}
\B{(0,-0.65)(0.25,-0.95)(0.5,-1.15)(0.75,-1.28)(1,-1.32)(1.25,-1.28)(1.5,-1.15)(1.75,-0.95)(2,-0.8)}
\B{(0,-1.45)(0.25,-1.1)(0.5,-1.35)(0.75,-1.5)(1,-1.54)(1.25,-1.5)(1.5,-1.35)(1.75,-1.05)(2,-1.7)(2.2,-2.4)(2.4,-3.0)(2.6,-3.6)(2.75,-4.1)}
\B{(0,-1.6)(0.25,-1.55)(0.5,-1.65)(0.75,-1.73)(1,-1.76)(1.25,-1.73)(1.5,-1.65)(1.75,-1.6)(2,-1.75)}
\B{(0,-1.75)(0.3,-2.0)(0.6,-2.3)(1,-2.42)(1.4,-2.3)(1.75,-2.0)(2,-1.85)(2.2,-2.3)(2.5,-2.9)(2.75,-3.18)(3,-3.23)(3.25,-3.18)(3.5,-2.9)(3.75,-2.3)(4,-1.75)}
\B{(0,-1.9)(0.3,-2.15)(0.6,-2.45)(1,-2.58)(1.4,-2.45)(1.75,-2.15)(2,-1.95)(2.2,-2.4)(2.5,-3.0)(2.75,-3.35)(3,-3.4)(3.25,-3.35)(3.5,-3.0)(3.75,-2.4)(4,-1.9)}
\B{(0,-2.0)(0.3,-2.3)(0.6,-2.6)(1,-2.74)(1.4,-2.6)(1.75,-2.3)(2,-2.05)(2.25,-2.5)(2.5,-3.1)(2.75,-3.45)(3,-3.5)(3.25,-3.45)(3.5,-3.1)(3.75,-2.5)(4,-2.0)}
\B{(0,-2.1)(0.35,-2.5)(0.7,-2.8)(1,-2.9)(1.3,-2.8)(1.65,-2.5)(2,-2.2)(2.25,-2.6)(2.5,-3.2)(2.75,-3.55)(3,-3.6)}
\B{(0,-2.2)(0.35,-2.65)(0.7,-3.05)(1,-3.18)(1.3,-3.05)(1.65,-2.65)(2,-2.3)(2.25,-2.8)(2.5,-3.35)(2.75,-3.65)(3,-3.7)}
\B{(0,-2.4)(0.35,-2.9)(0.7,-3.3)(1,-3.4)(1.3,-3.3)(1.65,-2.9)(2,-2.5)(2.3,-3.1)(2.6,-3.7)(2.8,-4.1)}
\B{(0,-3.0)(0.3,-2.7)(0.6,-2.55)(1,-2.45)(1.4,-2.5)(1.7,-2.45)(2,-2.55)}
\B{(0,-3.0)(0.3,-3.4)(0.6,-3.8)(0.75,-4.1)}
\B{(1.3,-4.1)(1.55,-3.6)(1.8,-3.0)(2,-2.65)}
\B{(3.3,-4.1)(3.5,-3.3)(3.75,-2.4)(4,-1.6)}
\B{(2,-2.65)(2.2,-2.7)(2.4,-2.75)(2.6,-3.0)(2.9,-3.6)(3.05,-4.1)}
\B{(4,-1.45)(4.25,-1.1)(4.5,-1.35)(4.75,-1.5)(5,-1.54)(5.25,-1.4)(5.55,-0.45)(5.7,-1.0)(6,-2.0)(6.2,-2.8)(6.414,-3.4)}
\B{(4,-1.6)(4.3,-1.6)(4.6,-1.7)(5,-1.76)(5.3,-1.75)(5.55,-1.7)(5.8,-1.8)(6.1,-1.95)(6.414,-1.98)}
\B{(4,-1.75)(4.3,-2.0)(4.6,-2.3)(5,-2.42)(5.3,-2.4)(5.6,-2.5)(6,-2.7)(6.414,-3.1)}
\B{(4,-1.9)(4.3,-2.15)(4.6,-2.45)(5,-2.58)(5.3,-2.65)(5.6,-2.85)(6,-3.1)(6.414,-3.23)}
\B{(4,-2.0)(4.3,-2.3)(4.6,-2.6)(5,-2.74)(5.3,-2.8)(5.6,-3.0)(6,-3.3)(6.414,-3.4)}
\B{(4,-2.2)(4.35,-2.65)(4.7,-3.05)(5,-3.18)(5.3,-3.15)(5.6,-3.3)(6,-3.5)(6.414,-3.6)}
\B{(4,-3.0)(4.3,-3.4)(4.6,-3.8)(4.75,-4.1)}
\B{(5.2,-4.1)(5.5,-3.7)(5.8,-3.6)(6.1,-3.75)(6.414,-3.95)}
\B{(4,-0.15)(4.3,-0.1)(4.6,-0.08)(5,-0.07)(5.3,-0.1)(5.5,-0.3)(5.7,-0.4)(6,-0.7)(6.414,-1.0)}
\B{(4,-0.25)(4.3,-0.45)(4.6,-0.35)(5,-0.28)(5.3,-0.35)(5.55,-0.3)(5.7,-0.7)(6,-1.2)(6.414,-1.32)}
\B{(4,-0.45)(4.25,-0.6)(4.5,-0.68)(5,-0.72)(5.3,-0.7)(5.55,-0.6)(5.8,-0.9)(6.1,-1.2)(6.414,-1.3)}
\B{(4,-0.55)(4.25,-0.8)(4.5,-0.95)(5,-1.05)(5.3,-1.0)(5.55,-0.9)(5.8,-1.3)(6.1,-1.7)(6.414,-1.8)}
\B{(4,-0.65)(4.25,-0.95)(4.5,-1.15)(5,-1.32)(5.3,-1.25)(5.6,-1.1)(5.9,-1.5)(6.414,-1.98)}
\end{axis}
\pgfresetboundingbox
\path[use as bounding box] (0pt,0pt) rectangle (643pt,-580pt);
\end{tikzpicture}
\end{document}
